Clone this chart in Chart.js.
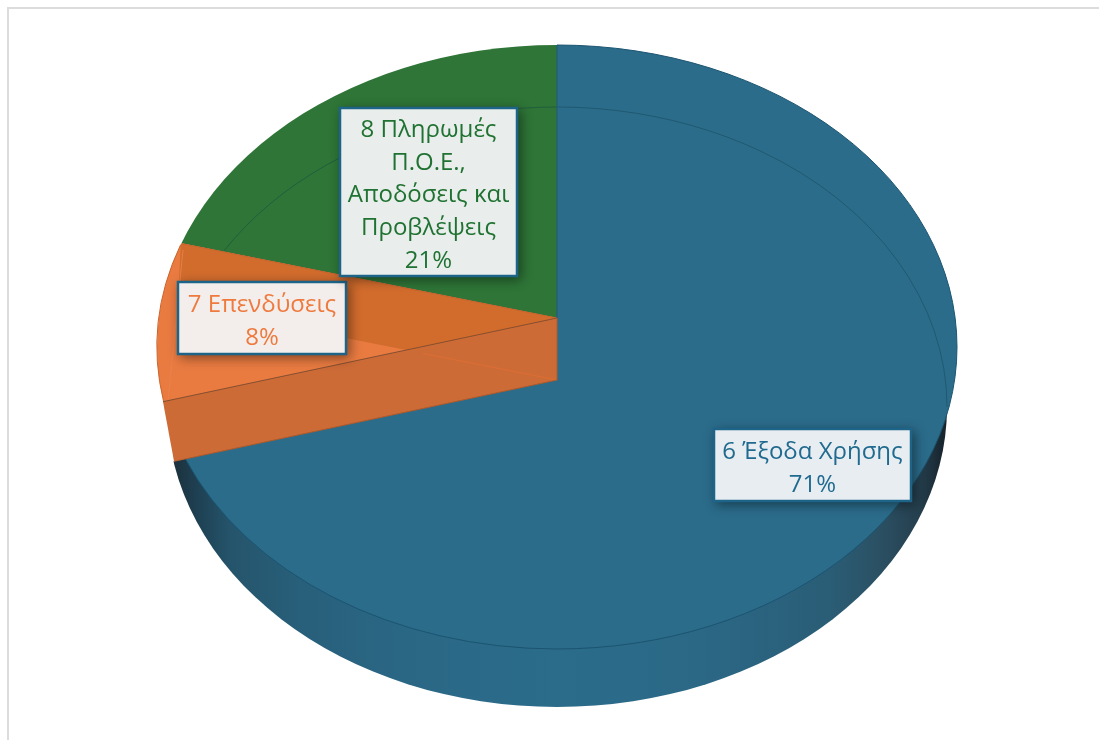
<!DOCTYPE html>
<html>
<head>
<meta charset="utf-8">
<style>
html,body{margin:0;padding:0;background:#fff;overflow:hidden}
#wrap{position:absolute;left:0;top:0;width:1099px;height:740px}
#frame{position:absolute;left:7px;top:7px;width:1092px;height:733px;border-left:2px solid #dcdcdc;border-top:2px solid #dcdcdc;box-sizing:border-box}
canvas{position:absolute;left:0;top:0}
</style>
<script src="https://cdn.jsdelivr.net/npm/chart.js@4/dist/chart.umd.min.js"></script>
</head>
<body>
<div id="wrap"><div id="frame"></div><canvas id="c" width="1099" height="740"></canvas></div>
<script>
const categories = ['6 Έξοδα Χρήσης', '7 Επενδύσεις', '8 Πληρωμές Π.Ο.Ε., Αποδόσεις και Προβλέψεις'];
const values = [70.87, 8.0, 21.13];
const percentLabels = ['71%', '8%', '21%'];
const labelLines = [['6 Έξοδα Χρήσης'], ['7 Επενδύσεις'], ['8 Πληρωμές', 'Π.Ο.Ε.,', 'Αποδόσεις και', 'Προβλέψεις']];
const sliceColors = ['#2b6c8b', '#e97b41', '#2e7537'];
const textColors = ['#1f6a8e', '#ee7a3e', '#1f7231'];
const boxFills = ['#e8edf2', '#f3eeec', '#e9eeec'];
const boxes = [[713,428,199,74],[177,281,170,74],[339,107,179,170]];
const FONT = '24px "Open Sans"';

const TOP = {x:557, y:347, rx:400, ry:302};
const BOT = {x:557, y:407, rx:390, ry:300};
const APEX = {x:557, y:318};
const DEPTH = 62, SX = 1.25, SY = 1.0;

function ellipsePath(ctx, e){ ctx.beginPath(); ctx.ellipse(e.x,e.y,e.rx,e.ry,0,0,Math.PI*2); }
function toView(ctx, arc, dy){
  const c = arc.getProps(['x','y'], true);
  ctx.translate(APEX.x, APEX.y + dy); ctx.scale(SX, SY); ctx.translate(-c.x, -c.y);
}
function drawArc(chart, i, color, dy){
  const arc = chart.getDatasetMeta(0).data[i];
  const old = arc.options.backgroundColor;
  arc.options.backgroundColor = color;
  const ctx = chart.ctx;
  ctx.save(); toView(ctx, arc, dy); arc.draw(ctx); ctx.restore();
  arc.options.backgroundColor = old;
}
function boundarySlope(frac){
  const a = frac*2*Math.PI - Math.PI/2;
  return {dx:Math.cos(a)*SX, dy:Math.sin(a)*SY};
}
function rayAtX(p, d, x){ const t=(x-p.x)/d.dx; return {x:x, y:p.y+t*d.dy}; }

const scene = {
  id:'scene',
  beforeDatasetsDraw(chart){
    const ctx = chart.ctx;
    const total = values.reduce((a,b)=>a+b,0);
    const dBlue = boundarySlope(values[0]/total);
    const dOrange = boundarySlope((values[0]+values[1])/total);
    const apex2 = {x:APEX.x, y:APEX.y+DEPTH};

    const st = [[172,'#1b303c'],[200,'#1f4255'],[232,'#25556c'],[300,'#285f7a'],[400,'#2a6785'],[557,'#2b6c8b'],[700,'#2b6886'],[830,'#2a5d76'],[880,'#2b5063'],[920,'#253f4e'],[942,'#18262f']];
    const wallArc = chart.getDatasetMeta(0).data[0];
    const cxy = wallArc.getProps(['x'], true);
    ctx.save();
    ellipsePath(ctx,BOT); ctx.clip();
    const g2 = ctx.createLinearGradient(cxy.x+(0-APEX.x)/SX,0,cxy.x+(1099-APEX.x)/SX,0);
    st.forEach(s=>g2.addColorStop(s[0]/1099,s[1]));
    drawArc(chart,0,g2,DEPTH);
    ctx.restore();

    ctx.save();
    ellipsePath(ctx,TOP); ctx.clip();
    [2,1,0].forEach(i=>drawArc(chart,i,sliceColors[i],0));
    ctx.save();
    const far = rayAtX(apex2,dOrange,100);
    ctx.beginPath();
    ctx.moveTo(apex2.x,apex2.y);
    ctx.lineTo(far.x,far.y);
    ctx.lineTo(100,100); ctx.lineTo(apex2.x,100); ctx.closePath(); ctx.clip();
    ctx.beginPath(); ctx.moveTo(183,200); ctx.lineTo(178,300); ctx.lineTo(560,420); ctx.lineTo(560,200); ctx.closePath(); ctx.clip();
    drawArc(chart,1,'#d26c2d',0);
    ctx.restore();
    ctx.restore();

    const e1 = rayAtX(APEX,dBlue,163), e2 = rayAtX(apex2,dBlue,174);
    ctx.beginPath();
    ctx.moveTo(APEX.x,APEX.y); ctx.lineTo(apex2.x,apex2.y); ctx.lineTo(e2.x,e2.y); ctx.lineTo(e1.x,e1.y); ctx.closePath();
    ctx.fillStyle = '#cd6b37'; ctx.fill();

    ctx.lineWidth = 1;
    ctx.strokeStyle = 'rgba(233,112,50,.55)';
    const tl = rayAtX(apex2,dOrange,423);
    ctx.beginPath(); ctx.moveTo(apex2.x,apex2.y); ctx.lineTo(tl.x,tl.y); ctx.stroke();
    ctx.strokeStyle = '#c5622c';
    const rimA = rayAtX(APEX,dOrange,182);
    ctx.beginPath(); ctx.moveTo(APEX.x,APEX.y); ctx.lineTo(rimA.x,rimA.y); ctx.stroke();
    ctx.strokeStyle = 'rgba(233,130,80,.8)';
    ctx.beginPath(); ctx.moveTo(183,250); ctx.lineTo(168,401); ctx.stroke();
    ctx.strokeStyle = '#c9622a';
    ctx.beginPath(); ctx.ellipse(TOP.x,TOP.y,TOP.rx,TOP.ry,0,Math.PI*0.942,Math.PI*1.11); ctx.stroke();
    ctx.strokeStyle = 'rgba(15,60,70,.4)';
    ctx.beginPath(); ctx.ellipse(BOT.x,BOT.y,BOT.rx,BOT.ry,0,-148.7*Math.PI/180,0); ctx.stroke();
    ctx.strokeStyle = '#215a78';
    ctx.beginPath(); ctx.moveTo(557,45); ctx.lineTo(APEX.x,APEX.y); ctx.stroke();
    ctx.strokeStyle = '#1b5470';
    ctx.beginPath(); ctx.ellipse(TOP.x,TOP.y,TOP.rx,TOP.ry,0,-Math.PI/2,158*Math.PI/180); ctx.stroke();
    ctx.strokeStyle = '#8a4d2a';
    ctx.beginPath(); ctx.moveTo(APEX.x,APEX.y); ctx.lineTo(e1.x,e1.y); ctx.stroke();
    ctx.strokeStyle = '#b05a2a';
    ctx.beginPath(); ctx.moveTo(apex2.x,apex2.y); ctx.lineTo(e2.x,e2.y); ctx.stroke();
    ctx.beginPath(); ctx.moveTo(apex2.x,apex2.y); ctx.lineTo(APEX.x,APEX.y); ctx.stroke();

    categories.forEach((c,i)=>{
      const b = boxes[i];
      ctx.save();
      ctx.shadowColor = 'rgba(0,0,0,.45)'; ctx.shadowBlur = 11; ctx.shadowOffsetX = 3; ctx.shadowOffsetY = 3;
      ctx.fillStyle = boxFills[i];
      ctx.fillRect(b[0],b[1],b[2],b[3]);
      ctx.restore();
      ctx.strokeStyle = '#1d6488'; ctx.lineWidth = 2.5;
      ctx.strokeRect(b[0]+1,b[1]+1,b[2]-2,b[3]-2);
      const lines = labelLines[i].concat([percentLabels[i]]);
      const lh = lines.length>2 ? 32.75 : 33;
      const h = lh*lines.length;
      ctx.font = FONT; ctx.fillStyle = textColors[i];
      ctx.textAlign = 'center'; ctx.textBaseline = 'middle';
      lines.forEach((t,j)=>ctx.fillText(t, b[0]+b[2]/2, b[1]+(b[3]-h)/2+lh*(j+.5)+3.5));
    });
    return false;
  }
};

new Chart(document.getElementById('c'), {
  type:'pie',
  data:{labels:categories, datasets:[{data:values, backgroundColor:sliceColors, borderWidth:0}]},
  options:{responsive:false, animation:false, layout:{padding:0},
    plugins:{legend:{display:false}, tooltip:{enabled:false}}},
  plugins:[scene]
});
</script>
</body>
</html>
